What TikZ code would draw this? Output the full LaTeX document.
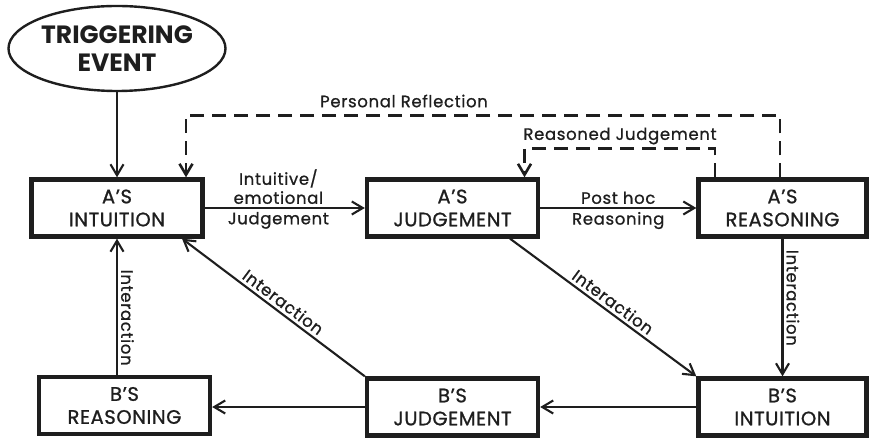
\documentclass[tikz,border=0pt]{standalone}
\usepackage{fontspec}
\setmainfont{Poppins}
\newfontfamily\labelfont{Poppins}[FakeBold=0.9, LetterSpace=4]
\newfontfamily\boxfont{Poppins}[FakeBold=1.0, LetterSpace=3]
\usetikzlibrary{arrows.meta,shapes.geometric,calc}
\definecolor{ink}{HTML}{1E1E1E}
\begin{document}
\begin{tikzpicture}[x=1pt,y=-1pt,
  stagebox/.style={draw=ink, line width=4.3pt, minimum width=171pt, minimum height=57pt,
    inner sep=0pt, align=center, text=ink, font=\boxfont\fontsize{19.5}{23}\selectfont},
  arr/.style={draw=ink, line width=2.1pt, -{Straight Barb[length=11pt,width=13pt]}},
  refl/.style={arr, line width=2.6pt, dash pattern=on 14pt off 8pt},
  lbl/.style={text=ink, inner sep=3pt, font=\labelfont\fontsize{16.5}{19}\selectfont},
]
\useasboundingbox (0,0) rectangle (870,438);

% trigger
\node[draw=ink, ellipse, line width=2.4pt, minimum width=217pt, minimum height=85pt,
  inner xsep=-6pt, inner ysep=0pt, align=center, text=ink,
  font=\bfseries\fontsize{25}{28}\selectfont] (TE) at (117,48.5) {TRIGGERING\\EVENT};

% person A
\node[stagebox] (AI) at (117,208) {A’S\\INTUITION};
\node[stagebox] (AJ) at (452.5,208) {A’S\\JUDGEMENT};
\node[stagebox, minimum width=168pt] (AR) at (782.5,208) {A’S\\REASONING};

% person B
\node[stagebox] (BR) at (124.5,405.5) {B’S\\REASONING};
\node[stagebox] (BJ) at (452.5,407) {B’S\\JUDGEMENT};
\node[stagebox, minimum width=168pt] (BI) at (782.5,407) {B’S\\INTUITION};

% main flow of A
\draw[arr] (TE) -- (AI);
\draw[arr] (AI.east) -- (AJ.west)
  node[pos=0.46, above, lbl, align=center] {Intuitive/\\emotional}
  node[pos=0.46, below, lbl] {Judgement};
\draw[arr] (AJ.east) -- (AR.west)
  node[midway, above, lbl] {Post hoc}
  node[midway, below, lbl] {Reasoning};

% feedback loops
\draw[refl] ([xshift=-2.5pt]AR.north) -- ++(0,-62) -| ([xshift=69pt]AI.north);
\node[lbl] (prl) at (404,101) {Personal Reflection};
\draw[refl] ([xshift=-67.5pt]AR.north) -- ++(0,-29) -| ([xshift=72pt]AJ.north);
\node[lbl] (rjl) at (620,136) {Reasoned Judgement};

% interaction between A and B
\draw[arr] (AR.south) -- (AR.south |- BI.north)
  node[pos=0.43, anchor=south, rotate=-90, lbl] {Interaction};
\draw[arr] ([xshift=57.5pt]AJ.south) -- (BI.north west)
  node[pos=0.52, sloped, above, lbl] {Interaction};
\draw[arr] (BI.west) -- (BJ.east);
\draw[arr] (BJ.west) -- (BJ.west -| BR.east);
\draw[arr] (BJ.north west) -- ([xshift=65pt]AI.south)
  node[pos=0.48, sloped, above, lbl] {Interaction};
\draw[arr] (AI.south |- BR.north) -- (AI.south)
  node[pos=0.42, anchor=south, rotate=-90, lbl] {Interaction};
\end{tikzpicture}
\end{document}
